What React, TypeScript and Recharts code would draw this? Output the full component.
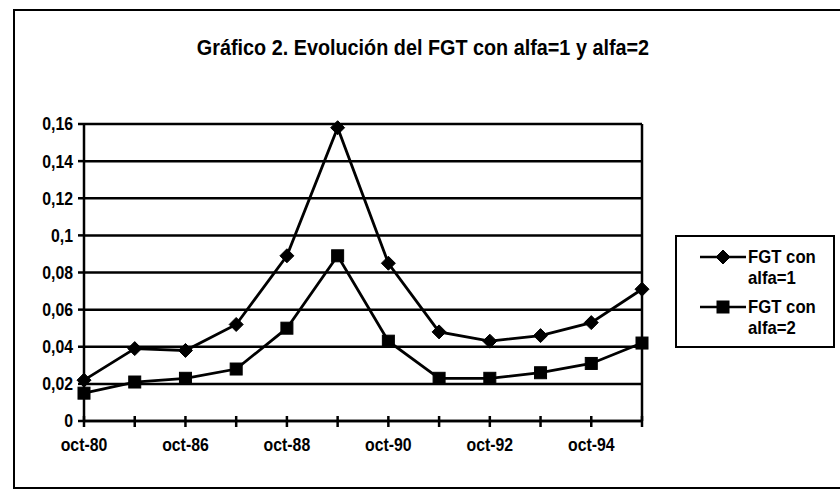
import React from 'react';
import { LineChart, Line, XAxis, YAxis, CartesianGrid, ReferenceLine } from 'recharts';

const categories = ['oct-80', 'oct-85', 'oct-86', 'oct-87', 'oct-88', 'oct-89', 'oct-90', 'oct-91', 'oct-92', 'oct-93', 'oct-94', 'oct-95'];
const fgtAlfa1 = [0.022, 0.039, 0.038, 0.052, 0.089, 0.158, 0.085, 0.048, 0.043, 0.046, 0.053, 0.071];
const fgtAlfa2 = [0.015, 0.021, 0.023, 0.028, 0.050, 0.089, 0.043, 0.023, 0.023, 0.026, 0.031, 0.042];
const yTicks = [0, 0.02, 0.04, 0.06, 0.08, 0.1, 0.12, 0.14, 0.16];
const shownLabels = ['oct-80', 'oct-86', 'oct-88', 'oct-90', 'oct-92', 'oct-94'];
const seriesNames = ['FGT con alfa=1', 'FGT con alfa=2'];
const title = 'Gráfico 2. Evolución del FGT con alfa=1 y alfa=2';

const data = categories.map((c, i) => ({ label: c, a1: fgtAlfa1[i], a2: fgtAlfa2[i] }));

const FONT = "'Liberation Sans', Arial, sans-serif";
const SX = 0.88;

const Diamond = (props: any) => {
  const { cx, cy } = props;
  if (cx == null || cy == null) return null;
  const r = 7;
  return <polygon points={`${cx},${cy - r} ${cx + r},${cy} ${cx},${cy + r} ${cx - r},${cy}`} fill="#000" stroke="#000" />;
};

const Square = (props: any) => {
  const { cx, cy } = props;
  if (cx == null || cy == null) return null;
  const s = 12;
  return <rect x={cx - s / 2} y={cy - s / 2} width={s} height={s} fill="#000" stroke="#000" />;
};

const XTick = (props: any) => {
  const { x, y, payload } = props;
  const show = shownLabels.includes(payload.value);
  return (
    <g>
      <line x1={x} x2={x} y1={y - 5} y2={y + 6} stroke="#000" strokeWidth={2.5} />
      {show && (
        <text transform={`translate(${x},${y + 30}) scale(${SX},1)`} x={0} y={0} textAnchor="middle" fill="#000" fontSize={18} fontWeight="bold" fontFamily={FONT}>
          {payload.value}
        </text>
      )}
    </g>
  );
};

const fmt = (v: number) => (v === 0 ? '0' : String(v).replace('.', ','));

const YTick = (props: any) => {
  const { x, y, payload } = props;
  return (
    <text transform={`translate(${x},${y}) scale(${SX},1)`} x={0} y={0} dy="0.36em" textAnchor="end" fill="#000" fontSize={18} fontWeight="bold" fontFamily={FONT}>
      {fmt(payload.value)}
    </text>
  );
};

const LegendIcon = ({ kind }: { kind: 'diamond' | 'square' }) => (
  <svg width={46} height={16} style={{ display: 'block' }}>
    <line x1={0} x2={46} y1={8} y2={8} stroke="#000" strokeWidth={2.5} />
    {kind === 'diamond' ? <Diamond cx={23} cy={8} /> : <Square cx={23} cy={8} />}
  </svg>
);

export default function App() {
  return (
    <div style={{ position: 'absolute', left: 0, top: 0, width: 840, height: 491, overflow: 'hidden', background: '#fff' }}>
      <div style={{ position: 'absolute', left: 13, top: 9, width: 900, height: 476, border: '2px solid #000' }} />
      <div style={{ position: 'absolute', left: 0, width: 846, top: 35, textAlign: 'center' }}>
        <span
          style={{
            display: 'inline-block', transform: `scaleX(${SX})`, transformOrigin: 'center',
            fontFamily: FONT, fontWeight: 'bold', fontSize: 22.5, color: '#000', lineHeight: '26px', whiteSpace: 'nowrap',
          }}
        >
          {title}
        </span>
      </div>
      <div style={{ position: 'absolute', left: 0, top: 0 }}>
        <LineChart width={840} height={491} data={data} margin={{ top: 124, right: 198, bottom: 40, left: 24 }}>
          <CartesianGrid horizontal vertical={false} stroke="#000" strokeWidth={2.5} />
          <XAxis
            dataKey="label"
            interval={0}
            height={30}
            tickSize={0}
            tickMargin={0}
            tickLine={false}
            axisLine={{ stroke: '#000', strokeWidth: 2.5 }}
            tick={<XTick />}
          />
          <YAxis
            width={60}
            domain={[0, 0.16]}
            ticks={yTicks}
            tickSize={6}
            tickMargin={5}
            tickLine={{ stroke: '#000', strokeWidth: 2.5 }}
            axisLine={{ stroke: '#000', strokeWidth: 2.5 }}
            tick={<YTick />}
          />
          <ReferenceLine x={categories[categories.length - 1]} stroke="#000" strokeWidth={2.5} />
          <Line dataKey="a1" name={seriesNames[0]} stroke="#000" strokeWidth={2.8} dot={<Diamond />} activeDot={false} isAnimationActive={false} />
          <Line dataKey="a2" name={seriesNames[1]} stroke="#000" strokeWidth={2.8} dot={<Square />} activeDot={false} isAnimationActive={false} />
        </LineChart>
      </div>
      <div style={{ position: 'absolute', left: 675, top: 235, width: 156, height: 109, border: '2px solid #000' }}>
        {seriesNames.map((n, i) => {
          const parts = n.split(' ');
          return (
            <React.Fragment key={n}>
              <div style={{ position: 'absolute', left: 23, top: 12 + i * 50 }}>
                <LegendIcon kind={i === 0 ? 'diamond' : 'square'} />
              </div>
              <div
                style={{
                  position: 'absolute', left: 71, top: 9 + i * 50, transform: `scaleX(${SX})`, transformOrigin: 'left',
                  fontFamily: FONT, fontWeight: 'bold', fontSize: 19, color: '#000', lineHeight: '21px', whiteSpace: 'nowrap',
                }}
              >
                <div>{parts[0] + ' ' + parts[1]}</div>
                <div>{parts[2]}</div>
              </div>
            </React.Fragment>
          );
        })}
      </div>
    </div>
  );
}
